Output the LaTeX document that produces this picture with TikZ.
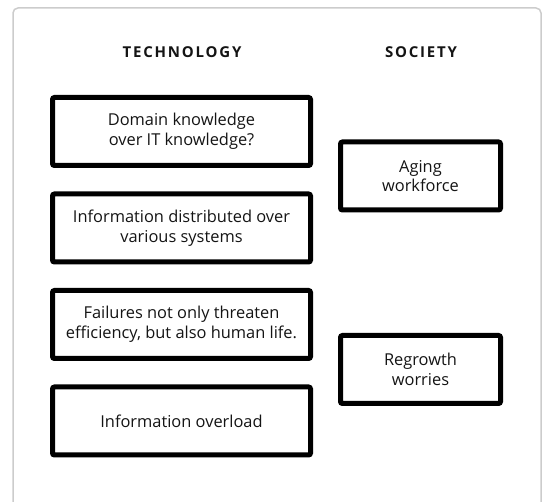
\documentclass[tikz,border=0pt]{standalone}
\usepackage{fontspec}
\setmainfont{Open Sans}
\usepackage{tikz}
\definecolor{framegray}{HTML}{CCCCCC}
\definecolor{inkgray}{HTML}{141414}

\begin{document}
\begin{tikzpicture} [x=1pt, y=-1pt, align=center, text=inkgray,
  topic/.style={rectangle, draw=black, line width=5pt, rounded corners=2pt, minimum height=68pt, inner sep=0pt, font=\fontsize{16.4}{19.8}\selectfont},
  techbox/.style={topic, minimum width=258pt},
  socbox/.style={topic, minimum width=160pt},
  head/.style={font=\fontsize{15}{18}\selectfont\bfseries\addfontfeature{LetterSpace=12}}]
\useasboundingbox (0, 0) rectangle (544, 502);
\draw[framegray, line width=1.5pt, rounded corners=5pt] (13, 520) -- (13, 8) -- (541, 8) -- (541, 520);

\path (182, 52.5) node[head] (h0) {TECHNOLOGY}
      (421, 52.5) node[head] (h1) {SOCIETY};

\path (181.5, 131.5) node[techbox] (t0) {Domain knowledge\\over IT knowledge?}
      (181.5, 228) node[techbox] (t1) {Information distributed over\\various systems}
      (181.5, 324.5) node[techbox] (t2) {Failures not only threaten\\efficiency, but also human life.}
      (181.5, 421) node[techbox] (t3) {Information overload};

\path (420.5, 176) node[socbox] (s0) {Aging\\workforce}
      (420.5, 369.5) node[socbox] (s1) {Regrowth\\worries};

\end{tikzpicture}
\end{document}
